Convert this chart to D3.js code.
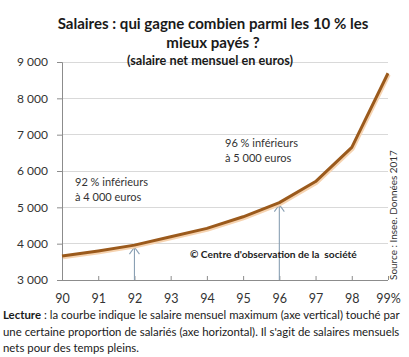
<!DOCTYPE html>
<html><head><meta charset="utf-8">
<script src="https://cdn.jsdelivr.net/npm/d3@7"></script>
<style>body{margin:0;background:#fff}svg{display:block}</style>
</head><body>
<script>
const categories = ["90","91","92","93","94","95","96","97","98","99%"];
const salaries = [3660, 3800, 3960, 4190, 4420, 4740, 5130, 5710, 6650, 8690];
const yTicks = [3000,4000,5000,6000,7000,8000,9000];
const arrows = [{cat:"92", value:3960}, {cat:"96", value:5130}];
const titleLines = ["Salaires : qui gagne combien parmi les 10 % les","mieux payés ?"];
const subtitle = "(salaire net mensuel en euros)";
const notes = [
  {lines:["92 % inférieurs","à 4 000 euros"], cat:"90"},
  {lines:["96 % inférieurs","à 5 000 euros"], cat:"94"}
];
const copyright = "© Centre d'observation de la  société";
const source = "Source : Insee. Données 2017";
const footer = [
  ["Lecture", " : la courbe indique le salaire mensuel maximum (axe vertical) touché par"],
  ["", "une certaine proportion de salariés (axe horizontal). Il s'agit de salaires mensuels"],
  ["", "nets pour des temps pleins."]
];

const W=409,H=357;
const FONT="Lato, 'Open Sans', sans-serif";
const svg=d3.select("body").append("svg").attr("width",W).attr("height",H).style("font-family",FONT);

const x=d3.scalePoint().domain(categories).range([62,388]);
const y=d3.scaleLinear().domain([3000,9000]).range([280,62]);

function fit(t, target){
  const fs=+t.attr("font-size");
  const w=t.node().getComputedTextLength();
  t.attr("font-size",(fs*target/w).toFixed(2));
  return t;
}

// grid
svg.append("g").selectAll("line").data(yTicks.filter(d=>d>3000)).join("line")
  .attr("x1",62).attr("x2",388).attr("y1",d=>y(d)).attr("y2",d=>y(d))
  .attr("stroke","#d9d9d9").attr("stroke-width",1).attr("shape-rendering","crispEdges");

// y axis
const ya=svg.append("g").attr("transform","translate(62,0)")
  .call(d3.axisLeft(y).tickValues(yTicks).tickSize(5).tickPadding(9)
    .tickFormat(d=>d3.format(",")(d).replace(",","\u00a0")));
ya.select(".domain").attr("stroke","#8c8c8c");
ya.selectAll(".tick line").attr("stroke","#8c8c8c");
ya.selectAll("text").attr("font-family",FONT).attr("font-size",12).attr("fill","#333");

// x axis
const xa=svg.append("g").attr("transform","translate(0,280)")
  .call(d3.axisBottom(x).tickSize(-4).tickPadding(14));
xa.select(".domain").attr("stroke","#8c8c8c").attr("d","M62,0.5H388");
xa.selectAll(".tick line").attr("stroke","#8c8c8c");
xa.selectAll("text").attr("font-family",FONT).attr("font-size",12.5).attr("fill","#333");

// arrows
const ag=svg.append("g").attr("stroke","#8aa0b4").attr("fill","none").attr("stroke-width",1.1);
arrows.forEach(a=>{
  const ax=x(a.cat), top=y(a.value)+2;
  ag.append("line").attr("x1",ax).attr("x2",ax).attr("y1",280).attr("y2",top);
  ag.append("path").attr("d",`M${ax-5},${top+7}L${ax},${top}L${ax+5},${top+7}`);
});

// curve
const line=d3.line().x((d,i)=>x(categories[i])).y(d=>y(d));
svg.append("path").datum(salaries).attr("d",line).attr("fill","none")
  .attr("stroke","#f6d3b0").attr("stroke-width",3.5).attr("transform","translate(1,1.5)");
svg.append("path").datum(salaries).attr("d",line).attr("fill","none")
  .attr("stroke","#9b5a1c").attr("stroke-width",3).attr("stroke-linejoin","round");

// title
const t1=svg.append("text").attr("x",213).attr("y",29).attr("text-anchor","middle")
  .attr("font-weight","bold").attr("font-size",15).attr("fill","#1a1a1a").text(titleLines[0]);
fit(t1,311);
const fsT=+t1.attr("font-size");
svg.append("text").attr("x",213).attr("y",47.5).attr("text-anchor","middle")
  .attr("font-weight","bold").attr("font-size",fsT).attr("fill","#1a1a1a").text(titleLines[1]);
const st=svg.append("text").attr("x",210).attr("y",65).attr("text-anchor","middle")
  .attr("font-weight","bold").attr("font-size",12).attr("fill","#1a1a1a").text(subtitle);
fit(st,166);

// notes
const noteX=[75,225], noteY=[186,147];
notes.forEach((n,i)=>{
  const t0=svg.append("text").attr("x",noteX[i]).attr("y",noteY[i])
    .attr("font-size",12).attr("fill","#333").text(n.lines[0]);
  fit(t0,73);
  svg.append("text").attr("x",noteX[i]).attr("y",noteY[i]+15)
    .attr("font-size",t0.attr("font-size")).attr("fill","#333").text(n.lines[1]);
});

const cp=svg.append("text").attr("x",190).attr("y",258).attr("font-weight","bold")
  .attr("font-size",11).attr("fill","#222").style("white-space","pre").text(copyright);
fit(cp,167);

const so=svg.append("text").attr("transform","translate(397,215) rotate(-90)")
  .attr("text-anchor","middle").attr("font-size",11).attr("fill","#333").text(source);
fit(so,130);

// footer
const fy=[319,336,352];
let fsF=null;
footer.forEach((f,i)=>{
  const t=svg.append("text").attr("x",3).attr("y",fy[i]).attr("font-size",12).attr("fill","#1a1a1a");
  if(f[0]) t.append("tspan").attr("font-weight","bold").text(f[0]);
  t.append("tspan").text(f[1]);
  if(i===0){ fit(t,397); fsF=t.attr("font-size"); }
  else t.attr("font-size",fsF);
});
</script>
</body></html>
